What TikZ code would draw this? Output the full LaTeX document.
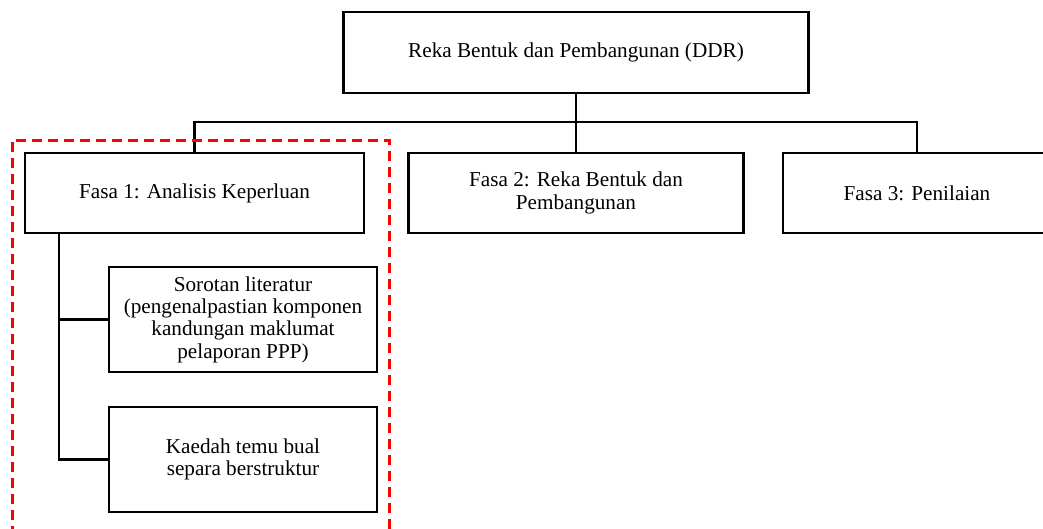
\documentclass[tikz,border=0pt]{standalone}
\usepackage{fontspec}
\setmainfont{Liberation Serif}
\begin{document}
\begin{tikzpicture}[
    x=1pt, y=-1pt,
    box/.style={draw, line width=2.2pt, minimum width=#1, align=center, inner sep=0pt, font=\fontsize{21.2}{22.3}\selectfont},
    link/.style={line width=2.2pt},
    focus/.style={draw=red, line width=3pt, dash pattern=on 10pt off 6pt}
]
    \clip (0,0) rectangle (1043,528);
    \fill[white] (0,0) rectangle (1043,528);

    \node[box=465pt, minimum height=81pt] (ddr) at (576,52.5) {Reka Bentuk dan Pembangunan (DDR)};
    \node[box=339pt, minimum height=80pt] (fasa1) at (194.5,193) {Fasa 1: Analisis Keperluan};
    \node[box=335pt, minimum height=80pt] (fasa2) at (576,193) {Fasa 2: Reka Bentuk dan\\Pembangunan};
    \node[box=268pt, minimum height=80pt] (fasa3) at (917,193) {Fasa 3: Penilaian};
    \node[box=268pt, minimum height=105pt] (lit) at (243,319.5) {Sorotan literatur\\(pengenalpastian komponen\\kandungan maklumat\\pelaporan PPP)};
    \node[box=268pt, minimum height=105pt] (temu) at (243,459.5) {Kaedah temu bual\\separa berstruktur};

    \coordinate (bus) at (0,122);
    \coordinate (spine) at (59,0);

    \draw[link] (ddr.south) -- (fasa2.north);
    \draw[link] (fasa1.north) |- (fasa3.north |- bus) -- (fasa3.north);
    \draw[link] (fasa1.south -| spine) |- (temu.west);
    \draw[link] (lit.west) -- (lit.west -| spine);

    \draw[focus] (12,600) -- (12,140) -- (389,140) -- (389,600);
\end{tikzpicture}
\end{document}
